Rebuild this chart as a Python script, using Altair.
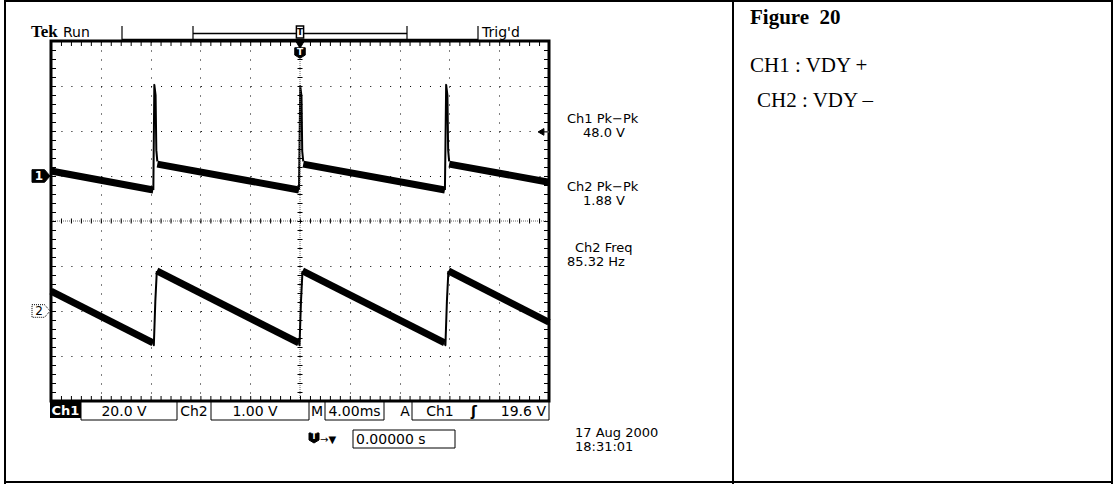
import altair as alt
import pandas as pd

# ---------------- data ----------------
TIME_GRID = [-16, -12, -8, -4, 4, 8, 12, 16]      # ms (4.00 ms/div)
DIV_GRID = [-3, -2, -1, 1, 2, 3]                  # vertical divisions

CH1_VOLTS_PER_DIV = 20.0
CH2_VOLTS_PER_DIV = 1.0
CH1_GROUND_DIV = 1
CH2_GROUND_DIV = -2
CH1_TRIGGER_LEVEL = 19.6

# Channel 1 (V) : ramps ("r") and fly-back spikes ("e")
ch1_t = [-20, -11.78, -11.78, -11.70, -11.60, -11.54, -11.46,
         -11.46, -0.08, -0.08, 0.02, 0.12, 0.18, 0.26,
         0.26, 11.64, 11.64, 11.74, 11.84, 11.90, 11.98,
         11.98, 20]
ch1_v = [2.2, -6.2, -6.2, 40.5, 36.0, 11.5, 6.5,
         5.3, -6.2, -6.2, 40.0, 35.5, 11.0, 6.5,
         5.3, -6.2, -6.2, 40.5, 36.0, 11.5, 6.5,
         5.3, -2.8]
ch1_seg = ["r0", "r0", "e1", "e1", "e1", "e1", "e1",
           "r1", "r1", "e2", "e2", "e2", "e2", "e2",
           "r2", "r2", "e3", "e3", "e3", "e3", "e3",
           "r3", "r3"]

# Channel 2 (V)
ch2_t = [-20, -11.80, -11.80, -11.74, -11.62, -11.50,
         -11.50, -0.10, -0.10, -0.04, 0.08, 0.20,
         0.20, 11.62, 11.62, 11.68, 11.80, 11.92,
         11.92, 20]
ch2_v = [0.44, -0.71, -0.71, -0.76, 0.22, 0.89,
         0.89, -0.71, -0.71, -0.76, 0.22, 0.89,
         0.89, -0.71, -0.71, -0.76, 0.22, 0.89,
         0.89, -0.25]
ch2_seg = ["r0", "r0", "e1", "e1", "e1", "e1",
           "r1", "r1", "e2", "e2", "e2", "e2",
           "r2", "r2", "e3", "e3", "e3", "e3",
           "r3", "r3"]

readouts = ["Ch1 Pk\u2212Pk", "48.0 V", "Ch2 Pk\u2212Pk", "1.88 V", "Ch2 Freq", "85.32 Hz"]
date_text = ["17 Aug 2000", "18:31:01"]
status = ["Ch1", "20.0 V", "Ch2", "1.00 V", "M", "4.00ms", "A", "Ch1", "\u0283", "19.6 V"]
delay_text = "0.00000 s"
side_title = "Figure\u00a0\u00a020"
side_lines = ["CH1 : VDY +", "CH2 : VDY \u2013"]

# ---------------- layout helpers ----------------
OX, OY = 51, 41          # plot-area origin in the page
W, H = 498, 360
ONE = pd.DataFrame({"k": [0]})
TEK = "DejaVu Sans"
FS = 14


def X(v):
    return v - OX


def Y(v):
    return v - OY


def txt(s, x, y, size=FS, font=TEK, weight="normal", align="left", color="black", baseline="alphabetic"):
    enc = {"x": x if not isinstance(x, (int, float)) else alt.value(X(x)),
           "y": y if not isinstance(y, (int, float)) else alt.value(Y(y))}
    return alt.Chart(ONE).mark_text(text=s, font=font, fontSize=size, fontWeight=weight,
                                    align=align, baseline=baseline, color=color).encode(**enc)


def hline(x1, x2, y, w=1.0, color="black", dash=None):
    kw = dict(color=color, strokeWidth=w)
    if dash:
        kw["strokeDash"] = dash
    yy = y if not isinstance(y, (int, float)) else alt.value(Y(y))
    return alt.Chart(ONE).mark_rule(**kw).encode(x=alt.value(X(x1)), x2=alt.value(X(x2)), y=yy)


def vline(x, y1, y2, w=1.0, color="black", dash=None):
    kw = dict(color=color, strokeWidth=w)
    if dash:
        kw["strokeDash"] = dash
    xx = x if not isinstance(x, (int, float)) else alt.value(X(x))
    return alt.Chart(ONE).mark_rule(**kw).encode(x=xx, y=alt.value(Y(y1)), y2=alt.value(Y(y2)))


def sym(shape, x, y, size, fill, stroke=None, sw=1, dash=None):
    kw = dict(shape=shape, size=size, filled=True, fill=fill, opacity=1,
              stroke=stroke if stroke else fill, strokeWidth=sw)
    if dash:
        kw["strokeDash"] = dash
    enc = {"x": x if not isinstance(x, (int, float)) else alt.value(X(x)),
           "y": y if not isinstance(y, (int, float)) else alt.value(Y(y))}
    return alt.Chart(ONE).mark_point(**kw).encode(**enc)


# ---------------- traces ----------------
xscale = alt.Scale(domain=[-20, 20], nice=False, zero=False)
yscale = alt.Scale(domain=[-4, 4], nice=False, zero=False)
xaxis = alt.Axis(values=TIME_GRID, grid=True, gridDash=[1, 8], gridColor="black", gridWidth=1,
                 gridOpacity=1, domain=False, ticks=False, labels=False, title=None)
yaxis = alt.Axis(values=DIV_GRID, grid=True, gridDash=[1, 8.96], gridColor="black", gridWidth=1,
                 gridOpacity=1, domain=False, ticks=False, labels=False, title=None)


def trace(t, v, seg, ground, vpd, widths):
    df = pd.DataFrame({"t": t, "v": v, "seg": seg})
    df["kind"] = ["ramp" if s.startswith("r") else "edge" for s in seg]
    return alt.Chart(df).transform_calculate(
        div=f"{ground} + datum.v / {vpd}"
    ).mark_line(color="black", strokeJoin="round").encode(
        x=alt.X("t:Q", scale=xscale, axis=xaxis),
        y=alt.Y("div:Q", scale=yscale, axis=yaxis),
        detail="seg:N",
        strokeWidth=alt.StrokeWidth("kind:N", scale=alt.Scale(domain=["ramp", "edge"], range=widths),
                                    legend=None),
    )


layers = []
# outer table frame
layers += [
    vline(5, 0, 484, 2), vline(733, 0, 484, 2), vline(1112, 0, 484, 2),
    hline(5, 1113, 1, 2), hline(5, 1113, 482, 2),
]

ch1 = trace(ch1_t, ch1_v, ch1_seg, CH1_GROUND_DIV, CH1_VOLTS_PER_DIV, [7, 2])
ch2 = trace(ch2_t, ch2_v, ch2_seg, CH2_GROUND_DIV, CH2_VOLTS_PER_DIV, [8, 2])
layers += [ch1]

# centre cross (fine dotted line + minor ticks)
layers += [
    hline(OX, OX + W, alt.datum(0), 1, "#666", [1, 1]),
    hline(OX, OX + W, alt.datum(0), 5, "black", [1, 8.96]),
    vline(alt.datum(0), OY, OY + H, 1, "#666", [1, 1]),
    vline(alt.datum(0), OY, OY + H, 5, "black", [1, 8]),
]
# minor ticks along the graticule frame
layers += [
    hline(OX, OX + W, OY + 3, 4, "black", [1, 8.96]),
    hline(OX, OX + W, OY + H - 3, 4, "black", [1, 8.96]),
    vline(OX + 3, OY, OY + H, 4, "black", [1, 8]),
    vline(OX + W - 3, OY, OY + H, 4, "black", [1, 8]),
]
layers += [ch2]

# ground markers
TAG = "M -1 -0.7 L 0.4 -0.7 L 1 0 L 0.4 0.7 L -1 0.7 Z"
layers += [
    sym(TAG, 41, alt.datum(CH1_GROUND_DIV), 324, "black"),
    txt("1", 39, alt.datum(CH1_GROUND_DIV), 12, weight="bold", align="center", color="white", baseline="middle"),
    sym(TAG, 41, alt.datum(CH2_GROUND_DIV), 324, "white", "black", 1, [1, 1]),
    txt("2", 39, alt.datum(CH2_GROUND_DIV), 12, align="center", color="black", baseline="middle"),
]
# trigger level arrow (right side)
trig_div = CH1_GROUND_DIV + CH1_TRIGGER_LEVEL / CH1_VOLTS_PER_DIV
layers += [
    hline(543, 549, alt.datum(trig_div), 1.5, "#555"),
    sym("triangle-left", 541, alt.datum(trig_div), 45, "black"),
]

# top bar
layers += [
    txt("Tek", 31, 37, 17, font="Liberation Serif", weight="bold"),
    txt("Run", 63, 37, 14),
    vline(122, 26, 41, 1.2), vline(478, 26, 41, 1.2),
    hline(122, 478, 39.5, 1.5),
    vline(193, 26, 41, 1.2), vline(407, 26, 41, 1.2),
    hline(193, 407, 33.5, 1.5),
    txt("Trig'd", 482, 37, 14),
]
SHIELD = "M -1 -1 L 1 -1 L 1 0.4 L 0 1 L -1 0.4 Z"
NARROW = "M -0.6 -1 L 0.6 -1 L 0.6 1 L -0.6 1 Z"
layers += [
    sym(NARROW, alt.datum(0), 32, 144, "white", "black", 1.5),
    txt("T", alt.datum(0), 32, 9, weight="bold", align="center", baseline="middle"),
    sym("triangle-down", alt.datum(0), 45, 60, "black"),
    sym(SHIELD, alt.datum(0), 53, 110, "black"),
    txt("T", alt.datum(0), 52, 9, weight="bold", align="center", color="white", baseline="middle"),
]

# right-hand readouts
RS = 13
layers += [
    txt(readouts[0], 567, 123, RS), txt(readouts[1], 583, 137, RS),
    txt(readouts[2], 567, 191, RS), txt(readouts[3], 583, 205, RS),
    txt(readouts[4], 575, 252, RS), txt(readouts[5], 567, 266, RS),
    txt(date_text[0], 575, 437, RS), txt(date_text[1], 575, 451, RS),
]

# bottom status bar
SB = 416
layers += [
    alt.Chart(ONE).mark_rect(color="black").encode(x=alt.value(X(50)), x2=alt.value(X(81)),
                                                   y=alt.value(Y(401)), y2=alt.value(Y(418))),
    txt(status[0], 65.5, SB - 1, 13, weight="bold", align="center", color="white"),
    vline(81, 401, 420), vline(177, 401, 420), hline(81, 177, 420),
    txt(status[1], 124, SB, align="center"),
    txt(status[2], 194, SB, align="center"),
    vline(211, 401, 420), vline(309, 401, 420), hline(211, 309, 420),
    txt(status[3], 255, SB, align="center"),
    txt(status[4], 317, SB, align="center"),
    vline(325, 401, 420), vline(384, 401, 420), hline(325, 384, 420),
    txt(status[5], 354.5, SB, align="center"),
    txt(status[6], 405, SB, align="center"),
    vline(412, 401, 420), vline(549, 401, 420), hline(412, 549, 420),
    txt(status[7], 440, SB, align="center"),
    txt(status[8], 474, SB, weight="bold", align="center"),
    txt(status[9], 546, SB, align="right"),
]
# delay readout row
layers += [
    sym(SHIELD, 314, 438, 100, "black"),
    txt("T", 314, 437, 8, weight="bold", align="center", color="white", baseline="middle"),
    txt("\u2192\u25BC", 320, 443, 10),
    vline(353, 430, 448), vline(455, 430, 448), hline(353, 455, 430), hline(353, 455, 448),
    txt(delay_text, 356, 444),
]

# right panel (Times-like)
layers += [
    txt(side_title, 750, 24, 21, font="Liberation Serif", weight="bold"),
    txt(side_lines[0], 750, 72, 21, font="Liberation Serif"),
    txt(side_lines[1], 757, 107, 21, font="Liberation Serif"),
]

chart = alt.layer(*layers).properties(
    width=W, height=H,
    padding={"left": OX, "top": OY, "right": 1114 - OX - W, "bottom": 484 - OY - H},
    autosize=alt.AutoSizeParams(type="none"),
    background="white",
).configure_view(stroke="black", strokeWidth=3)

chart.save("out.html", embed_options={"renderer": "svg", "actions": False})
